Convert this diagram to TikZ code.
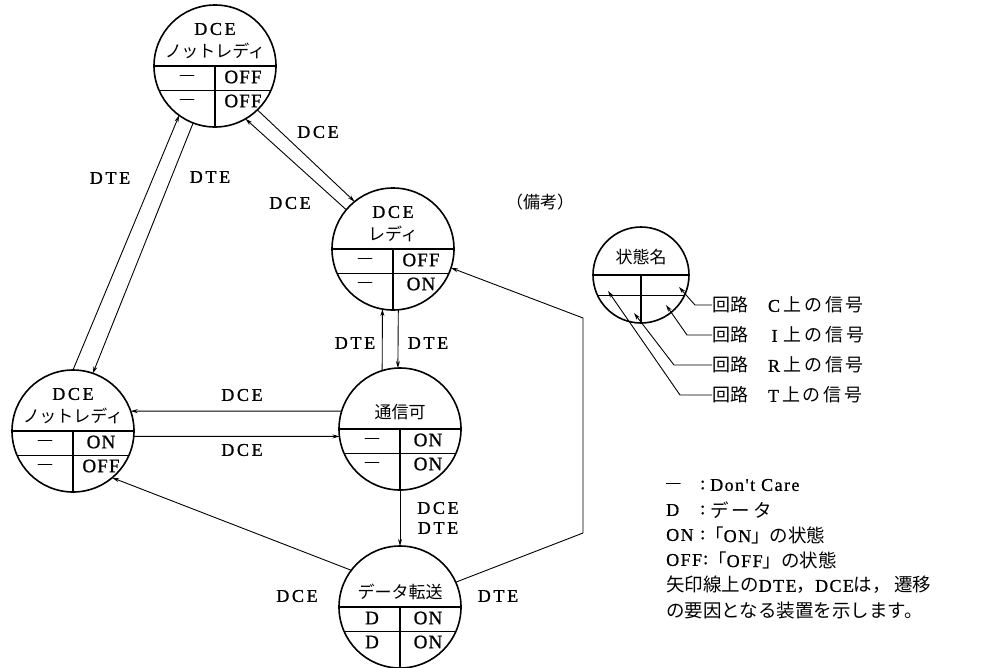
\documentclass[tikz,border=0pt]{standalone}
\usepackage{fontspec}
\setmainfont{Liberation Serif}
\newfontfamily\jp{Noto Sans CJK JP}
\newfontfamily\lsf[LetterSpace=15,FakeBold=1]{Liberation Serif}
\newfontfamily\csf[LetterSpace=6,FakeBold=1]{Liberation Serif}
\newfontfamily\nsf[LetterSpace=8,FakeBold=0.8]{Liberation Serif}
\newcommand\jpb[1]{{\jp\fontsize{18.5}{18.5}\selectfont #1}}
\newcommand\cdash{{\fontsize{14}{14}\selectfont —}}
\usetikzlibrary{arrows.meta,calc}
\newcommand\stframe[5]{%
  \draw[sep] (#1.west) -- (#1.east);
  \draw[sep] (#1.204) -- (#1.336);
  \draw[sep] (#1.center) -- (#1.south);
  \node[cell] (#1-l1) at ([shift={(-28pt,-11pt)}]#1.center) {#2};
  \node[cell] (#1-r1) at ([shift={(28pt,-11pt)}]#1.center) {#3};
  \node[cell] (#1-l2) at ([shift={(-28pt,-35pt)}]#1.center) {#4};
  \node[cell] (#1-r2) at ([shift={(28pt,-35pt)}]#1.center) {#5};
}
\begin{document}
\begin{tikzpicture}[x=1pt,y=-1pt,
  state/.style={circle,draw,line width=1.6pt,minimum size=122pt,inner sep=0pt,outer sep=0pt},
  lgcirc/.style={circle,draw,line width=1.6pt,minimum size=96pt,inner sep=0pt,outer sep=0pt},
  sep/.style={line width=1.1pt},
  lab/.style={font=\lsf\fontsize{18}{18}\selectfont,inner sep=0pt},
  cell/.style={font=\csf\fontsize{19}{19}\selectfont,inner sep=0pt},
  ttl/.style={font=\jp\fontsize{17}{17}\selectfont,inner sep=0pt},
  arr/.style={line width=0.9pt,-{Stealth[length=7pt,width=4pt]}},
  note/.style={font=\nsf\fontsize{18}{18}\selectfont,inner sep=0pt,anchor=west},
]
\useasboundingbox (0,0) rectangle (982,667);

% state circles
\node[state] (A) at (215,66) {};
\stframe{A}{\cdash}{OFF}{\cdash}{OFF}
\node[lab] (A-t1) at ([yshift=37pt]A.center) {DCE};
\node[ttl] (A-t2) at ([yshift=15pt]A.center) {ノットレディ};

\node[state] (B) at (393,249) {};
\stframe{B}{\cdash}{OFF}{\cdash}{ON}
\node[lab] (B-t1) at ([yshift=37pt]B.center) {DCE};
\node[ttl] (B-t2) at ([yshift=15pt]B.center) {レディ};

\node[state] (C) at (400,429) {};
\stframe{C}{\cdash}{ON}{\cdash}{ON}
\node[ttl] (C-t1) at ([yshift=17pt]C.center) {通信可};

\node[state] (L) at (73,431) {};
\stframe{L}{\cdash}{ON}{\cdash}{OFF}
\node[lab] (L-t1) at ([yshift=37pt]L.center) {DCE};
\node[ttl] (L-t2) at ([yshift=15pt]L.center) {ノットレディ};

\node[state] (D) at (400,607) {};
\stframe{D}{D}{ON}{D}{ON}
\node[ttl] (D-t1) at ([yshift=15pt]D.center) {データ転送};

% transitions
\draw[arr] (L.90) -- (A.234);
\draw[arr] (A.249) -- (L.71);
\draw[arr] (A.314) -- (B.129);
\draw[arr] (B.140) -- (A.300);
\draw[arr] (C.107) -- (B.260);
\draw[arr] (B.275) -- (C.92);
\draw[arr] (C.163) -- (L.19);
\draw[arr] (L.355) -- (C.187);
\draw[arr] (C.270) -- (D.90);
\draw[arr] (D.143) -- (L.310);
\coordinate (k1) at (583,533);
\coordinate (k2) at (583,318);
\draw[arr] (D.24) -- (k1) -- (k2) -- (B.342);

% transition labels
\node[lab] (l1) at (110,178) {DTE};
\node[lab] (l2) at (210,177) {DTE};
\node[lab] (l3) at (318,132) {DCE};
\node[lab] (l4) at (290,203) {DCE};
\node[lab] (l5) at (355,343) {DTE};
\node[lab] (l6) at (428,343) {DTE};
\node[lab] (l7) at (242,395) {DCE};
\node[lab] (l8) at (242,450) {DCE};
\node[lab] (l9) at (438,508) {DCE};
\node[lab] (l10) at (438,528) {DTE};
\node[lab] (l11) at (297,596) {DCE};
\node[lab] (l12) at (498,596) {DTE};

% legend
\node[ttl] (bk) at (540,202) {（備考）};
\node[lgcirc] (E) at (641,275) {};
\draw[sep] (E.west) -- (E.east);
\draw[sep] (E.205) -- (E.335);
\draw[sep] (E.center) -- (E.south);
\node[ttl] (E-t) at ([yshift=18pt]E.center) {状態名};

\node[note] (gC) at (712,305) {{\jp 回路}\hspace{1.1em}C\,{\jp 上\,の\,信\,号}};
\node[note] (gI) at (712,335) {{\jp 回路}\hspace{1.3em}I\,\,{\jp 上\,の\,信\,号}};
\node[note] (gR) at (712,365) {{\jp 回路}\hspace{1.1em}R\,{\jp 上\,の\,信\,号}};
\node[note] (gT) at (712,395) {{\jp 回路}\hspace{1.1em}T\,{\jp 上\,の\,信\,号}};
\coordinate (cC) at (679,287); \coordinate (bC) at (695,305);
\coordinate (cI) at (666,305); \coordinate (bI) at (687,335);
\coordinate (cR) at (634,313); \coordinate (bR) at (674,365);
\coordinate (cT) at (608,291); \coordinate (bT) at (680,395);
\draw[arr] (gC.west) -- (bC) -- (cC);
\draw[arr] (gI.west) -- (bI) -- (cI);
\draw[arr] (gR.west) -- (bR) -- (cR);
\draw[arr] (gT.west) -- (bT) -- (cT);

\node[note] (k1a) at (666,485) {\cdash};
\node[note] (k1b) at (700,485) {:};
\node[note] (k1c) at (710,485) {Don't Care};
\node[note] (k2a) at (666,510) {D};
\node[note] (k2b) at (700,510) {:};
\node[note] (k2c) at (710,510) {\jpb{デ\,ー\,タ}};
\node[note] (k3a) at (666,535) {ON};
\node[note] (k3b) at (700,535) {:};
\node[note] (k3c) at (705,535) {\jpb{「}ON\jpb{」の状態}};
\node[note] (k4a) at (666,560) {OFF};
\node[note] (k4b) at (703,560) {:};
\node[note] (k4c) at (708,560) {\jpb{「}OFF\jpb{」の状態}};
\node[note] (k5) at (666,585) {\jpb{矢印線上の}DTE\jpb{，}DCE\jpb{は，\,遷移}};
\node[note] (k6) at (666,610) {\jpb{の要因となる装置を示します。}};
\end{tikzpicture}
\end{document}
